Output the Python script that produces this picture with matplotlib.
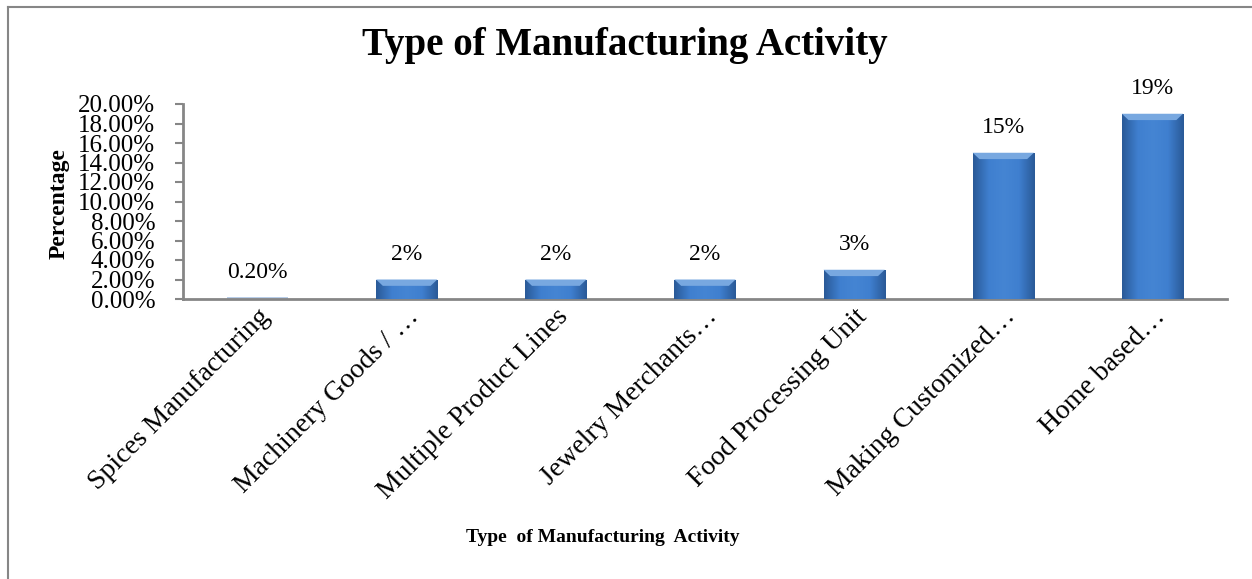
import numpy as np
import matplotlib.pyplot as plt
from matplotlib.colors import LinearSegmentedColormap
from matplotlib.patches import Polygon
from matplotlib.lines import Line2D
import matplotlib.transforms as mtransforms

plt.rcParams['font.family'] = ['Liberation Serif', 'DejaVu Serif']

activities = ['Spices Manufacturing', 'Machinery Goods / \u2026', 'Multiple Product Lines',
              'Jewelry Merchants\u2026', 'Food Processing Unit', 'Making Customized\u2026',
              'Home based\u2026']
shares = [0.002, 0.02, 0.02, 0.02, 0.03, 0.15, 0.19]
share_labels = ['0.20%', '2%', '2%', '2%', '3%', '15%', '19%']
yticks = np.arange(0, 0.201, 0.02)

fig = plt.figure(figsize=(12.52, 5.79), dpi=100)
ax = fig.add_axes([183/1252, 1 - 299/579, (1227 - 183)/1252, (299 - 104)/579])

x = np.arange(len(activities))
bw = 0.41
bars = ax.bar(x, shares, width=bw, color='#3b78c4', edgecolor='none', zorder=2)

# shaded fill and bevelled top for each bar
shade = LinearSegmentedColormap.from_list('shade', ['#2a5a98', '#3f7fcf', '#4585d3', '#3f7fcf', '#2a5a98'])
grad = np.linspace(0, 1, 64).reshape(1, -1)
for b, v in zip(bars, shares):
    x0, w = b.get_x(), b.get_width()
    if v > 0.01:
        im = ax.imshow(grad, cmap=shade, extent=[x0, x0 + w, 0, v], aspect='auto',
                       zorder=3, interpolation='bicubic')
        im.set_clip_path(b)
        dx, dy = 0.045, 0.0065
        ax.add_patch(Polygon([[x0, v], [x0 + w, v], [x0 + w - dx, v - dy], [x0 + dx, v - dy]],
                             closed=True, facecolor='#78a8e0', edgecolor='none', zorder=4))
    else:
        b.set_facecolor('#b8cde8')

for xi, v, lab in zip(x, shares, share_labels):
    ax.annotate(lab, (xi, v), xytext=(0, 18), textcoords='offset points',
                ha='center', va='center', fontsize=17)

ax.set_xlim(-0.5, len(activities) - 0.5)
ax.set_ylim(0, 0.20)
ax.set_yticks(yticks)
ax.set_yticklabels(['%.2f%%' % (t * 100) for t in yticks], fontsize=18)
ax.set_xticks(x)
ax.set_xticklabels(activities, rotation=45, ha='right', rotation_mode='anchor', fontsize=20)
offset = mtransforms.ScaledTranslation(0.24, -0.10, fig.dpi_scale_trans)
for t in ax.get_xticklabels():
    t.set_transform(t.get_transform() + offset)

ax.tick_params(axis='x', length=0)
ax.tick_params(axis='y', length=6, width=1.5, color='#868686', pad=14)
for s in ['top', 'right']:
    ax.spines[s].set_visible(False)
for s in ['left', 'bottom']:
    ax.spines[s].set_color('#868686')
    ax.spines[s].set_linewidth(2)

ax.set_ylabel('Percentage', fontsize=17, fontweight='bold')
ax.yaxis.set_label_coords((70 - 183) / 1044, 0.49)
fig.text(603/1252, 1 - 537/579, 'Type  of Manufacturing  Activity', ha='center', va='center',
         fontsize=14, fontweight='bold')
fig.text(625/1252, 1 - 45/579, 'Type of Manufacturing Activity', ha='center', va='center',
         fontsize=28, fontweight='bold')

# chart area border
fig.add_artist(Line2D([8/1252, 8/1252], [0, 1 - 7/579], color='#868686', lw=1.5))
fig.add_artist(Line2D([8/1252, 1], [1 - 7/579, 1 - 7/579], color='#868686', lw=1.5))

fig.savefig('out.png', dpi=100)
